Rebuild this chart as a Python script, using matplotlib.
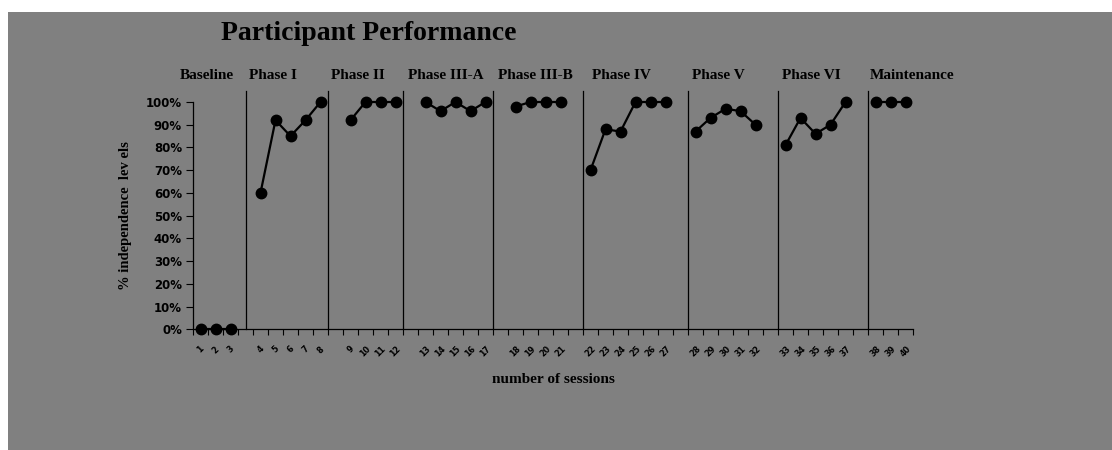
import matplotlib.pyplot as plt
from matplotlib.patches import Rectangle

# ---------------- Data ----------------
phases = ["Baseline", "Phase I", "Phase II", "Phase III-A", "Phase III-B",
          "Phase IV", "Phase V", "Phase VI", "Maintenance"]
baseline = [0, 0, 0]
phase_1 = [60, 92, 85, 92, 100]
phase_2 = [92, 100, 100, 100]
phase_3a = [100, 96, 100, 96, 100]
phase_3b = [98, 100, 100, 100]
phase_4 = [70, 88, 87, 100, 100, 100]
phase_5 = [87, 93, 97, 96, 90]
phase_6 = [81, 93, 86, 90, 100]
maintenance = [100, 100, 100]
series = [baseline, phase_1, phase_2, phase_3a, phase_3b,
          phase_4, phase_5, phase_6, maintenance]

# phase change lines (in category slots)
phase_lines = [3.5, 9, 14, 20, 26, 33, 39, 45]

# ---------------- Figure ----------------
fig = plt.figure(figsize=(11.12, 4.5), dpi=100)
fig.patch.set_facecolor("white")
bg = Rectangle((8 / 1112, 0), 1, 1 - 12 / 450, transform=fig.transFigure,
               facecolor="#808080", edgecolor="none", zorder=-10)
fig.add_artist(bg)

ax = fig.add_axes([193 / 1112, 120.7 / 450, 720 / 1112, 227.3 / 450])
ax.set_facecolor("none")

serif = ["Liberation Serif", "DejaVu Serif"]

slot = 0
session = 1
tick_pos = []
tick_lab = []
for name, vals in zip(phases, series):
    xs = [slot + i + 0.5 for i in range(len(vals))]
    ys = [v / 100 for v in vals]
    ax.plot(xs, ys, color="black", lw=1.6, marker="o", ms=7.5, clip_on=False, zorder=3)
    for i in range(len(vals)):
        tick_pos.append(xs[i])
        tick_lab.append(str(session))
        session += 1
    slot += len(vals) + 1

for i, x in enumerate(phase_lines):
    ax.plot([x, x], [0, 1.05], color="black", lw=0.9, clip_on=False, zorder=2)

# phase labels
label_x = [-0.9, 3.75, 9.2, 14.3, 20.3, 26.6, 33.3, 39.3, 45.1]
for name, x in zip(phases, label_x):
    ax.text(x, 1.115, name, ha="left", va="center", fontsize=11,
            fontweight="bold", family=serif, color="black")

ax.set_xlim(0, slot - 1)
ax.set_ylim(0, 1)

ax.set_xticks(range(0, slot), minor=True)
ax.set_xticks(tick_pos)
ax.set_xticklabels(tick_lab, rotation=45, fontsize=5.8, fontweight="bold")
ax.tick_params(axis="x", which="major", length=0, pad=11)
ax.tick_params(axis="x", which="minor", length=4, width=0.8, direction="out", color="black")

ax.set_yticks([i / 10 for i in range(11)])
ax.set_yticklabels([f"{i * 10}%" for i in range(11)], fontsize=8.5, fontweight="bold")
ax.tick_params(axis="y", length=5, width=0.8, color="black", pad=3)

for s in ["top", "right"]:
    ax.spines[s].set_visible(False)
for s in ["left", "bottom"]:
    ax.spines[s].set_color("black")
    ax.spines[s].set_linewidth(0.9)

ax.set_ylabel("% independence  lev els", fontsize=10.5, fontweight="bold", family=serif, labelpad=10)
ax.set_xlabel("number of sessions", fontsize=11, fontweight="bold", family=serif, labelpad=10)

fig.text(369 / 1112, 1 - 33 / 450, "Participant Performance", ha="center", va="center",
         fontsize=20, fontweight="bold", family=serif, color="black")

fig.savefig("out.png", dpi=100, facecolor=fig.get_facecolor())
